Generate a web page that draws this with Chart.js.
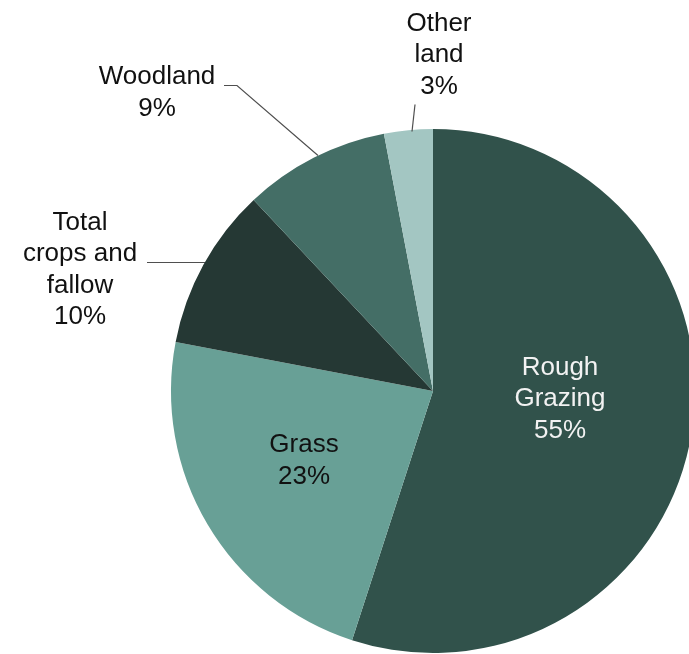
<!DOCTYPE html>
<html lang="en">
<head>
    <meta charset="UTF-8">
    <title>Agricultural land use</title>
    <script src="https://cdn.jsdelivr.net/npm/chart.js"></script>
    <style>
        html, body { margin: 0; padding: 0; background: #fff; overflow: hidden; }
        canvas { display: block; }
    </style>
</head>
<body>
    <canvas id="grafico" width="700" height="654"></canvas>

    <script>
        // land use shares (%), clockwise from 12 o'clock
        const categories = ['Rough Grazing', 'Grass', 'Total crops and fallow', 'Woodland', 'Other land'];
        const shares = [55, 23, 10, 9, 3];
        const sliceColours = ['#31524b', '#68a096', '#253834', '#446e66', '#a3c6c2'];

        // how each category name is split over lines in its label
        const labelLines = [['Rough', 'Grazing'], ['Grass'], ['Total', 'crops and', 'fallow'], ['Woodland'], ['Other', 'land']];
        const labelColours = ['#f2f2f2', '#111111', '#111111', '#111111', '#111111'];
        // label block centres, offset from the pie centre
        const labelPos = [[127, 8], [-129, 70], [-353, -121], [-276, -298], [6, -336]];
        // leader lines for the labels sitting outside the pie
        const leaders = [
            [[-286, -129], [-228, -129]],
            [[-209, -306], [-196, -306], [-115, -236]],
            [[-18, -287], [-21, -260]]
        ];
        const LINE_H = 31.5;

        const sliceLabels = {
            id: 'sliceLabels',
            afterDatasetsDraw(chart) {
                const ctx = chart.ctx;
                const arc = chart.getDatasetMeta(0).data[0];
                const cx = arc.x, cy = arc.y;
                ctx.save();

                ctx.strokeStyle = '#4f4f4f';
                ctx.lineWidth = 1.2;
                leaders.forEach(pts => {
                    ctx.beginPath();
                    pts.forEach(([dx, dy], j) => {
                        if (j === 0) ctx.moveTo(cx + dx, cy + dy + 0.5);
                        else ctx.lineTo(cx + dx, cy + dy + 0.5);
                    });
                    ctx.stroke();
                });

                ctx.font = '26px "Liberation Sans", Arial, sans-serif';
                ctx.textAlign = 'center';
                ctx.textBaseline = 'middle';
                labelLines.forEach((lines, i) => {
                    const rows = lines.concat(shares[i] + '%');
                    const [dx, dy] = labelPos[i];
                    const top = cy + dy - (rows.length - 1) * LINE_H / 2;
                    ctx.fillStyle = labelColours[i];
                    rows.forEach((t, k) => ctx.fillText(t, cx + dx, top + k * LINE_H));
                });
                ctx.restore();
            }
        };

        const ctx = document.getElementById('grafico').getContext('2d');
        const grafico = new Chart(ctx, {
            type: 'pie',
            data: {
                labels: categories,
                datasets: [{
                    data: shares,
                    backgroundColor: sliceColours,
                    borderWidth: 0
                }]
            },
            options: {
                responsive: false,
                animation: false,
                layout: { padding: { left: 171, right: 5, top: 129, bottom: 1 } },
                plugins: {
                    legend: { display: false },
                    tooltip: { enabled: false }
                }
            },
            plugins: [sliceLabels]
        });
    </script>
</body>
</html>
